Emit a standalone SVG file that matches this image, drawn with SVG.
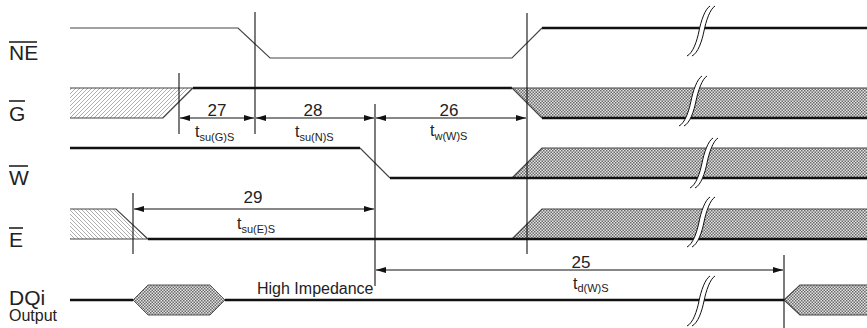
<svg xmlns="http://www.w3.org/2000/svg" xmlns:xlink="http://www.w3.org/1999/xlink" width="867" height="328" viewBox="0 0 867 328">
<style>
.lbl{font-family:"Liberation Sans",Arial,sans-serif;font-size:21px;fill:#222}
.sm{font-family:"Liberation Sans",Arial,sans-serif;font-size:16px;fill:#222}
.num{font-family:"Liberation Sans",Arial,sans-serif;font-size:17px;fill:#222;text-anchor:middle}
.sub{font-size:11px}
.thick{stroke:#111;stroke-width:2.5;fill:none}
.thin{stroke:#444;stroke-width:1.1;fill:none}
.ol{stroke:#222;stroke-width:1.6}
.vref{stroke:#111;stroke-width:1.1}
.dim{stroke:#111;stroke-width:1;fill:none}
.xh{fill:url(#xh);stroke:#555;stroke-width:1}
</style>
<defs>
<pattern id="xh" width="3" height="3" patternUnits="userSpaceOnUse"><rect width="3" height="3" fill="#e4e4e4"/><rect width="1.5" height="1.5" fill="#6a6a6a"/><rect x="1.5" y="1.5" width="1.5" height="1.5" fill="#6a6a6a"/></pattern>
<pattern id="hf" width="4" height="4" patternUnits="userSpaceOnUse"><rect width="4" height="4" fill="#fff"/><path d="M-1,5 L5,-1 M-1,1 L1,-1 M3,5 L5,3" stroke="#777" stroke-width="0.6"/></pattern>
<pattern id="hb" width="4" height="4" patternUnits="userSpaceOnUse"><rect width="4" height="4" fill="#fff"/><path d="M-1,-1 L5,5 M3,-1 L5,1 M-1,3 L1,5" stroke="#777" stroke-width="0.6"/></pattern>
<marker id="ah" markerUnits="userSpaceOnUse" markerWidth="10" markerHeight="6" refX="10" refY="3" orient="auto-start-reverse"><path d="M0,0 L10,3 L0,6 z" fill="#111"/></marker>
<g id="brk">
<path d="M-14,25 C-8,22 -4,10 -2,0 C0,-10 4,-22 9,-25 L14,-25 C9,-22 5,-10 3,0 C1,10 -3,22 -9,25 Z" fill="#fff"/>
<path d="M-14,25 C-8,22 -4,10 -2,0 C0,-10 4,-22 9,-25 M-9,25 C-3,22 1,10 3,0 C5,-10 9,-22 14,-25" fill="none" stroke="#111" stroke-width="1"/>
</g>
</defs>

<g id="labels">
<text class="lbl" x="9" y="60">NE</text><line class="ol" x1="9" y1="42" x2="37" y2="42"/>
<text class="lbl" x="9" y="121">G</text><line class="ol" x1="9" y1="101" x2="25" y2="101"/>
<text class="lbl" x="9" y="185">W</text><line class="ol" x1="9" y1="166" x2="28" y2="166"/>
<text class="lbl" x="9" y="247">E</text><line class="ol" x1="9" y1="228" x2="23" y2="228"/>
<text class="lbl" x="9" y="305">DQi</text>
<text class="sm" x="9" y="321">Output</text>
</g>

<g id="sig-NE">
<polyline class="thin" points="70,28 238,28 270,58 512,58 542,28"/>
<line class="thick" x1="542" y1="28" x2="867" y2="28"/>
<use xlink:href="#brk" x="701" y="31"/>
</g>

<g id="sig-G">
<path d="M70,88 L193,88 L163,118 L70,118 Z" fill="url(#hf)"/>
<polyline class="thin" points="70,88 193,88 163,118 70,118"/>
<line class="thick" x1="193" y1="88" x2="512" y2="88"/>
<path d="M512,88 L867,88 L867,118 L542,118 Z" fill="url(#xh)"/>
<polyline class="thin" points="867,88 512,88 542,118"/>
<line class="thick" x1="542" y1="118" x2="867" y2="118"/>
<use xlink:href="#brk" x="693" y="101"/>
</g>

<g id="sig-W">
<line class="thick" x1="70" y1="148" x2="360" y2="148"/>
<line class="thin" x1="360" y1="148" x2="390" y2="178"/>
<path d="M512,178 L542,148 L867,148 L867,178 Z" fill="url(#xh)"/>
<polyline class="thin" points="512,178 542,148 867,148"/>
<line class="thick" x1="390" y1="178" x2="867" y2="178"/>
<use xlink:href="#brk" x="704" y="163"/>
</g>

<g id="sig-E">
<path d="M70,209 L116,209 L148,239 L70,239 Z" fill="url(#hb)"/>
<polyline class="thin" points="70,209 116,209 148,239 70,239"/>
<path d="M512,239 L542,209 L867,209 L867,239 Z" fill="url(#xh)"/>
<polyline class="thin" points="512,239 542,209 867,209"/>
<line class="thick" x1="148" y1="239" x2="867" y2="239"/>
<use xlink:href="#brk" x="701" y="222"/>
</g>

<g id="sig-DQi">
<line class="thick" x1="70" y1="300" x2="133" y2="300"/>
<path class="xh" d="M133,300 L148,285 L210,285 L225,300 L210,315 L148,315 Z"/>
<line class="thick" x1="225" y1="300" x2="784" y2="300"/>
<path d="M784,300 L800,285 L867,285 L867,315 L800,315 Z" fill="url(#xh)"/>
<polyline class="thin" points="867,285 800,285 784,300 800,315 867,315"/>
<text class="sm" x="257" y="294">High Impedance</text>
<use xlink:href="#brk" x="701" y="301"/>
</g>

<g id="connectors">
<line class="vref" x1="179" y1="73" x2="179" y2="134"/>
<line class="vref" x1="255" y1="12" x2="255" y2="134"/>
<line class="vref" x1="375" y1="104" x2="375" y2="286"/>
<line class="vref" x1="527" y1="13" x2="527" y2="254"/>
<line class="vref" x1="133" y1="193" x2="133" y2="254"/>
<line class="vref" x1="784" y1="255" x2="784" y2="328"/>
<line class="dim" x1="180" y1="118" x2="254" y2="118" marker-start="url(#ah)" marker-end="url(#ah)"/>
<line class="dim" x1="256" y1="118" x2="374" y2="118" marker-start="url(#ah)" marker-end="url(#ah)"/>
<line class="dim" x1="376" y1="118" x2="526" y2="118" marker-start="url(#ah)" marker-end="url(#ah)"/>
<line class="dim" x1="134" y1="209" x2="374" y2="209" marker-start="url(#ah)" marker-end="url(#ah)"/>
<line class="dim" x1="376" y1="270" x2="783" y2="270" marker-start="url(#ah)" marker-end="url(#ah)"/>
</g>

<g id="dim-labels">
<text class="num" x="217" y="116">27</text>
<text class="sm" x="195" y="137">t<tspan class="sub" dy="4">su(G)S</tspan></text>
<text class="num" x="313" y="116">28</text>
<text class="sm" x="295" y="137">t<tspan class="sub" dy="4">su(N)S</tspan></text>
<text class="num" x="449" y="116">26</text>
<text class="sm" x="430" y="136">t<tspan class="sub" dy="4">w(W)S</tspan></text>
<text class="num" x="253" y="203">29</text>
<text class="sm" x="237" y="229">t<tspan class="sub" dy="4">su(E)S</tspan></text>
<text class="num" x="581" y="268">25</text>
<text class="sm" x="573" y="289">t<tspan class="sub" dy="3">d(W)S</tspan></text>
</g>
</svg>
